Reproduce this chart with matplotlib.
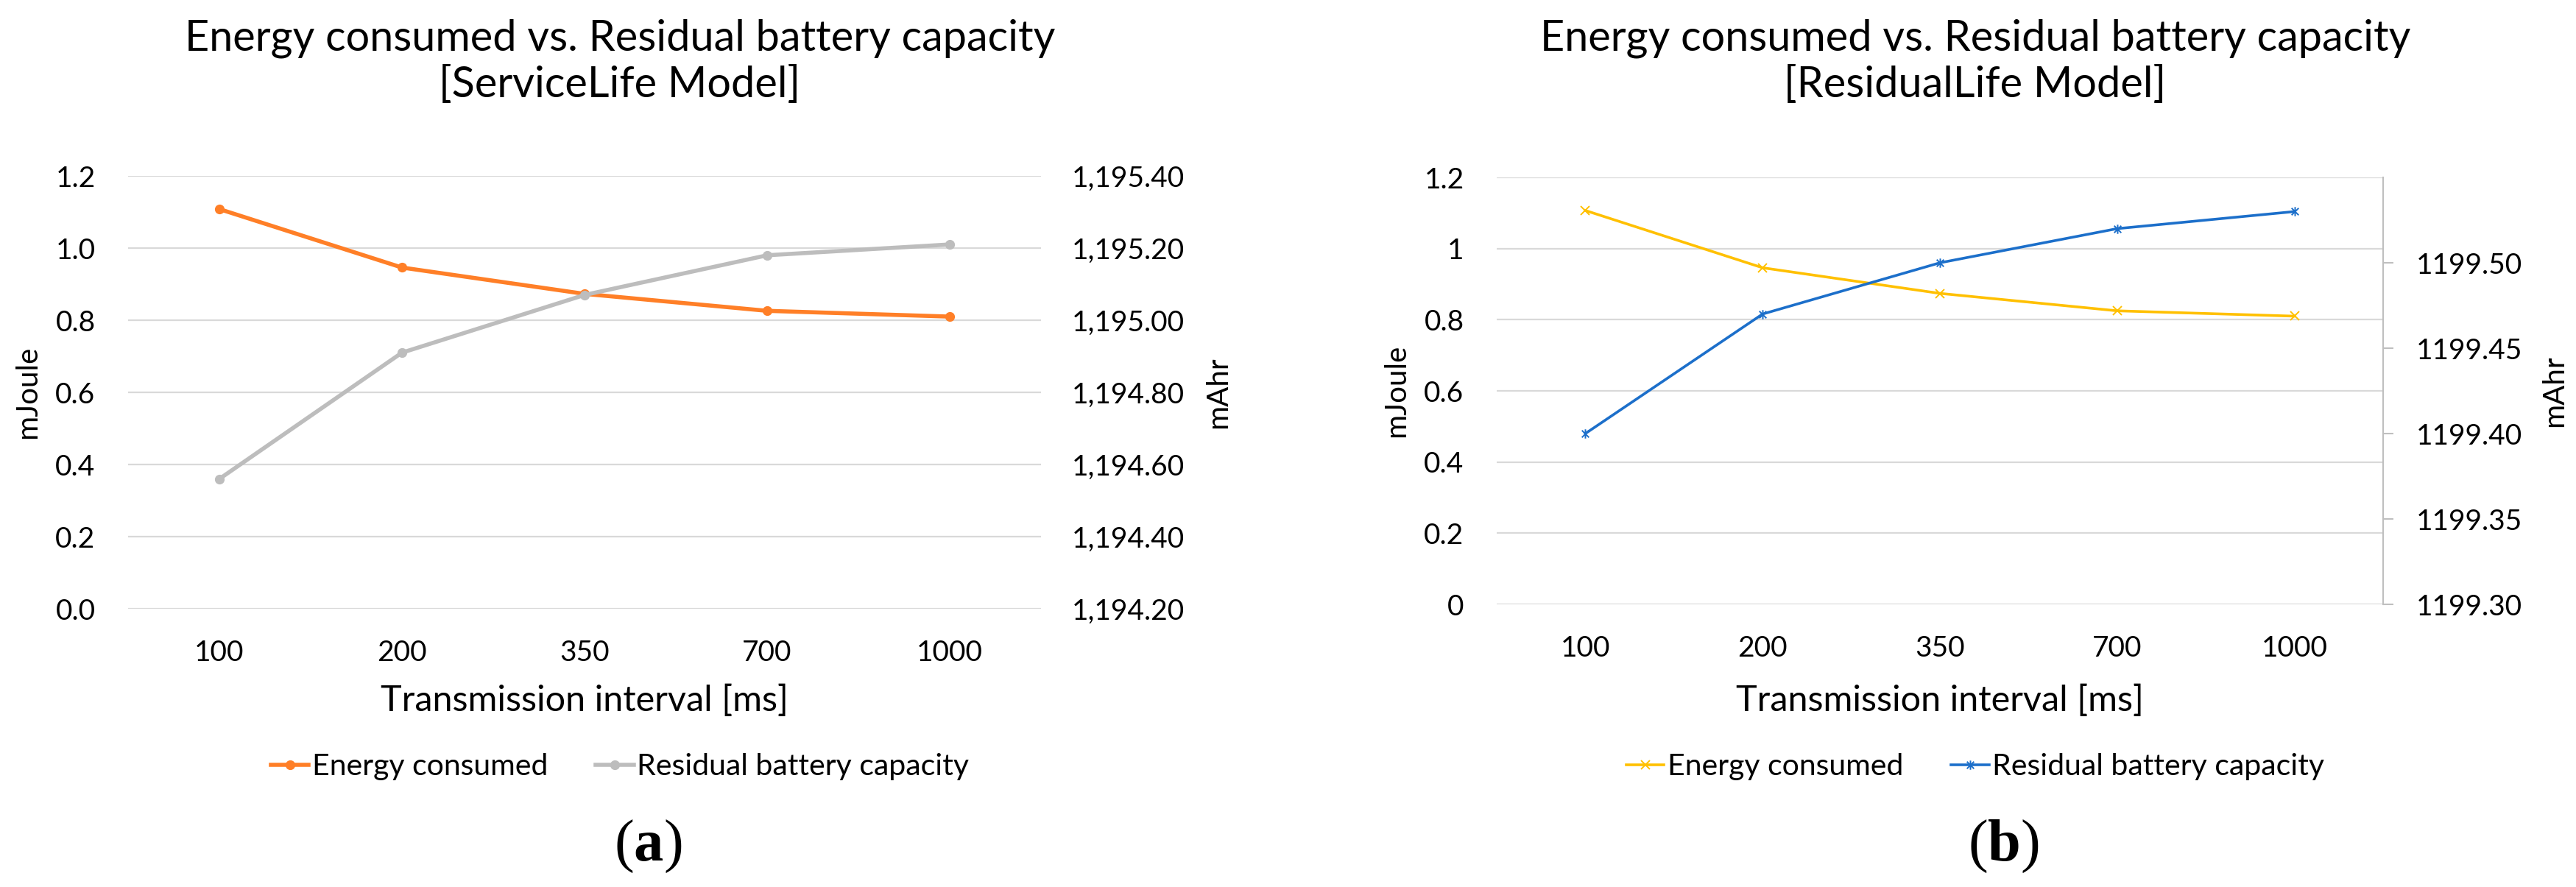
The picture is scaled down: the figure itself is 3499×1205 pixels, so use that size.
import matplotlib
matplotlib.use("Agg")
import matplotlib.pyplot as plt
from matplotlib.path import Path
from matplotlib.ticker import FixedLocator, FuncFormatter

# ---------------- data ----------------
intervals = ["100", "200", "350", "700", "1000"]

# (a) ServiceLife model
energy_a = [1.108, 0.946, 0.873, 0.826, 0.810]
battery_a = [1194.56, 1194.91, 1195.07, 1195.18, 1195.21]

# (b) ResidualLife model
energy_b = [1.107, 0.946, 0.874, 0.825, 0.810]
battery_b = [1199.400, 1199.470, 1199.500, 1199.520, 1199.530]

title_line1 = "Energy consumed vs. Residual battery capacity"
title_a = "[ServiceLife Model]"
title_b = "[ResidualLife Model]"
xlabel = "Transmission interval [ms]"
series_names = ["Energy consumed", "Residual battery capacity"]

# ---------------- style ----------------
plt.rcParams["font.family"] = ["Lato", "DejaVu Sans"]
plt.rcParams["mathtext.fontset"] = "custom"
plt.rcParams["mathtext.rm"] = "Liberation Serif"
plt.rcParams["mathtext.bf"] = "Liberation Serif:bold"

W, H = 3499, 1205
DPI = 100
fig = plt.figure(figsize=(W / DPI, H / DPI), dpi=DPI)

def fx(px):
    return px / W

def fy(py):
    return 1 - py / H

TICK_FS = 28
LEG_FS = 29.5
TITLE_FS = 41.5
XL_FS = 35
YL_FS = 29
GRID_C = "#D9D9D9"
TXT_C = "#000000"

ORANGE = "#FF7F27"
GRAY = "#BDBDBD"
YELLOW = "#FFC000"
BLUE = "#1C6FCA"

# asterisk marker (x + vertical bar)
star_path = Path(
    [(-1, -1), (1, 1), (-1, 1), (1, -1), (0, -1.3), (0, 1.3)],
    [Path.MOVETO, Path.LINETO, Path.MOVETO, Path.LINETO, Path.MOVETO, Path.LINETO],
)

x = list(range(len(intervals)))


def base_axes(rect):
    ax = fig.add_axes(rect)
    ax.set_xlim(-0.5, len(intervals) - 0.5)
    ax.set_ylim(0, 1.2)
    ax.yaxis.set_major_locator(FixedLocator([0, 0.2, 0.4, 0.6, 0.8, 1.0, 1.2]))
    ax.grid(axis="y", color=GRID_C, linewidth=1.6)
    ax.set_axisbelow(True)
    for s in ax.spines.values():
        s.set_visible(False)
    ax.set_xticks(x)
    ax.set_xticklabels(intervals)
    ax.tick_params(axis="both", length=0, labelsize=TICK_FS, colors=TXT_C)
    ax.tick_params(axis="x", pad=30)
    ax.tick_params(axis="y", pad=32)
    return ax


# ---------------- panel (a) ----------------
ax1 = base_axes([fx(174), fy(827), fx(1414) - fx(174), fy(239) - fy(827)])
ax1.yaxis.set_major_formatter(FuncFormatter(lambda v, p: f"{v:.1f}"))
l1, = ax1.plot(x, energy_a, color=ORANGE, lw=4.0, marker="o", ms=8.5,
               solid_joinstyle="round", label=series_names[0])
ax1r = ax1.twinx()
ax1r.set_ylim(1194.2, 1195.4)
ax1r.yaxis.set_major_locator(FixedLocator([1194.2, 1194.4, 1194.6, 1194.8,
                                           1195.0, 1195.2, 1195.4]))
ax1r.yaxis.set_major_formatter(FuncFormatter(lambda v, p: f"{v:,.2f}"))
for s in ax1r.spines.values():
    s.set_visible(False)
ax1r.tick_params(axis="y", length=0, labelsize=TICK_FS, pad=30, colors=TXT_C)
l2, = ax1r.plot(x, battery_a, color=GRAY, lw=4.0, marker="o", ms=8.5,
                solid_joinstyle="round", label=series_names[1])

# ---------------- panel (b) ----------------
ax2 = base_axes([fx(2033), fy(821), fx(3237) - fx(2033), fy(241) - fy(821)])
ax2.yaxis.set_major_formatter(FuncFormatter(lambda v, p: f"{v:g}"))
l3, = ax2.plot(x, energy_b, color=YELLOW, lw=2.6, marker="x", ms=9, mew=1.4,
               label=series_names[0])
ax2r = ax2.twinx()
ax2r.set_ylim(1199.30, 1199.55)
ax2r.yaxis.set_major_locator(FixedLocator([1199.30, 1199.35, 1199.40, 1199.45, 1199.50]))
ax2r.yaxis.set_major_formatter(FuncFormatter(lambda v, p: f"{v:.2f}"))
for k, s in ax2r.spines.items():
    s.set_visible(k == "right")
ax2r.spines["right"].set_color("#BFBFBF")
ax2r.spines["right"].set_linewidth(1.5)
ax2r.tick_params(axis="y", direction="out", length=10, width=1.5, color="#BFBFBF",
                 labelsize=TICK_FS, pad=22, labelcolor=TXT_C)
l4, = ax2r.plot(x, battery_b, color=BLUE, lw=2.6, marker=star_path, ms=9, mew=1.4,
                label=series_names[1])

# ---------------- texts ----------------
for cx, sub in [(842, title_a), (2683, title_b)]:
    fig.text(fx(cx), fy(52), title_line1, ha="center", va="center", fontsize=TITLE_FS, color=TXT_C)
    fig.text(fx(cx), fy(116), sub, ha="center", va="center", fontsize=TITLE_FS, color=TXT_C)

fig.text(fx(794), fy(952), xlabel, ha="center", va="center", fontsize=XL_FS, color=TXT_C)
fig.text(fx(2635), fy(952), xlabel, ha="center", va="center", fontsize=XL_FS, color=TXT_C)

fig.text(fx(38), fy(533), "mJoule", rotation=90, ha="center", va="center", fontsize=YL_FS)
fig.text(fx(1655), fy(533), "mAhr", rotation=90, ha="center", va="center", fontsize=YL_FS)
fig.text(fx(1897), fy(531), "mJoule", rotation=90, ha="center", va="center", fontsize=YL_FS)
fig.text(fx(3470), fy(531), "mAhr", rotation=90, ha="center", va="center", fontsize=YL_FS)

for cx, handles in [(842, [l1, l2]), (2683, [l3, l4])]:
    fig.legend(handles=handles, labels=series_names, loc="center",
               bbox_to_anchor=(fx(cx), fy(1042)), ncol=2, frameon=False,
               fontsize=LEG_FS, handlelength=1.25, handletextpad=0.1,
               columnspacing=1.6, borderpad=0, borderaxespad=0)

fig.text(fx(880), fy(1150), r"$(\mathbf{a})$", ha="center", va="center", fontsize=58)
fig.text(fx(2721), fy(1150), r"$(\mathbf{b})$", ha="center", va="center", fontsize=58)

fig.savefig("out.png", dpi=DPI, facecolor="white")
